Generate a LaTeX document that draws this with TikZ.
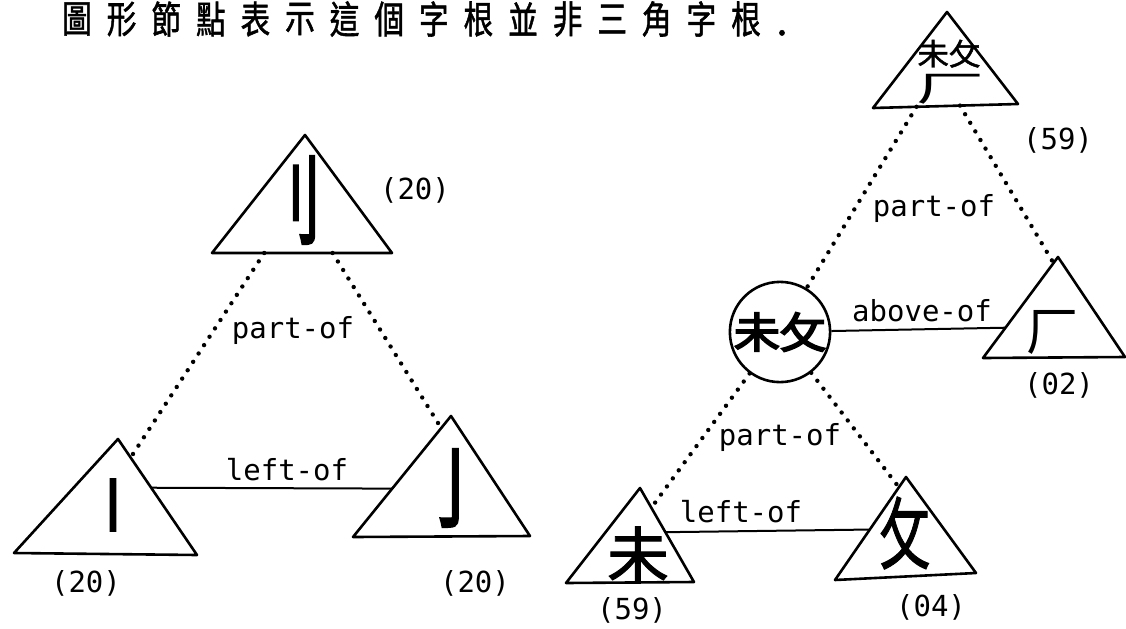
\documentclass[tikz,border=0pt]{standalone}
\usepackage{fontspec}
\usepackage{graphicx}
\newfontfamily\cjk{Noto Sans CJK TC}
\newfontfamily\cjkm[FakeBold=1.5]{Noto Sans CJK TC}
\newfontfamily\cjkb[FakeBold=4]{Noto Sans CJK TC}
\newfontfamily\mono{DejaVu Sans Mono}
\usetikzlibrary{calc}

\begin{document}
\begin{tikzpicture}[%
        x=0.5pt,
        y=-0.5pt,
        tri/.style={draw, line width=1.3pt, line join=round},
        rel/.style={line width=1pt},
        partof/.style={line width=2.2pt, line cap=round, dash pattern=on 0pt off 5pt},
        lbl/.style={font=\mono\fontsize{14.5}{16}\selectfont, inner sep=0pt},
        head/.style={font=\cjkm\fontsize{19}{19}\selectfont, inner sep=0pt},
        glyph/.style={inner sep=0pt},
        comp/.style={draw, circle, line width=1.3pt, minimum size=50pt, inner sep=0pt}
        ]
        \useasboundingbox (0,0) rectangle (1126,628);

        % title line
        \foreach \c [count=\i] in {圖,形,節,點,表,示,這,個,字,根,並,非,三,角,字,根}
            \node[head] (t\i) at ({77+44.6*(\i-1)},19) {\scalebox{0.78}[1]{\c}};
        \node[head, anchor=base] (tdot) at (782,35) {.};

        % triangles: apex, left corner, right corner
        \foreach \n/\a/\l/\r in {dao/{305,135}/{212,253}/{392,253},
                                 shu/{118,439}/{14,553}/{197,555},
                                 gou/{451,416}/{353,537}/{530,536},
                                 top/{947,12}/{873,108}/{1018,104},
                                 han/{1058,257}/{983,358}/{1125,357},
                                 wei/{640,488}/{566,583}/{694,582},
                                 pu/{906,477}/{835,580}/{976,573}}
        {
            \coordinate (\n-a) at (\a);
            \coordinate (\n-l) at (\l);
            \coordinate (\n-r) at (\r);
            \draw[tri] (\n-a) -- (\n-l) -- (\n-r) -- cycle;
        }

        % radicals
        \node[glyph, font=\cjkb\fontsize{48}{48}\selectfont] (dao-g) at (294,200) {\scalebox{0.55}[1]{刂}};
        \node[glyph, font=\cjkb\fontsize{28}{28}\selectfont] (shu-g) at (113,505) {丨};
        \node[glyph, font=\cjkb\fontsize{44}{44}\selectfont] (gou-g) at (455,488) {\scalebox{0.65}[1]{亅}};
        \node[glyph, font=\cjkm\fontsize{15}{15}\selectfont, anchor=south] (top-g) at (949,68) {\scalebox{1.05}[1]{未攵}};
        \node[glyph, font=\cjk\fontsize{34}{34}\selectfont, anchor=north] (top-h) at (950,74) {\scalebox{1}[0.52]{厂}};
        \node[glyph, font=\cjk\fontsize{26}{26}\selectfont] (han-g) at (1052,332) {厂};
        \node[glyph, font=\cjkm\fontsize{31}{31}\selectfont] (wei-g) at (638,555) {未};
        \node[glyph, font=\cjkm\fontsize{39}{39}\selectfont] (pu-g) at (905,533) {\scalebox{0.65}[1]{攵}};
        \node[comp, font=\cjkb\fontsize{21}{21}\selectfont] (wpu) at (780,332) {\scalebox{1.1}[1]{未攵}};

        % numbers
        \node[lbl] (dao-n) at (415,190) {(20)};
        \node[lbl] (shu-n) at (86,583) {(20)};
        \node[lbl] (gou-n) at (475,583) {(20)};
        \node[lbl] (top-n) at (1058,140) {(59)};
        \node[lbl] (han-n) at (1059,385) {(02)};
        \node[lbl] (wei-n) at (632,610) {(59)};
        \node[lbl] (pu-n) at (931,607) {(04)};

        % left tree
        \coordinate (dao-pl) at ($(dao-l)!0.29!(dao-r)$);
        \coordinate (dao-pr) at ($(dao-l)!0.67!(dao-r)$);
        \coordinate (shu-e) at ($(shu-a)!0.16!(shu-r)$);
        \coordinate (gou-e) at ($(gou-a)!0.10!(gou-l)$);
        \draw[partof] (dao-pl) -- (shu-e);
        \draw[partof] (dao-pr) -- (gou-e);
        \node[lbl] (part1) at (293,330) {part-of};

        \coordinate (shu-s) at ($(shu-a)!0.42!(shu-r)$);
        \coordinate (gou-s) at ($(gou-a)!0.60!(gou-l)$);
        \draw[rel] (shu-s) -- (gou-s);
        \node[lbl] (left1) at (287,470) {left-of};

        % right tree
        \coordinate (top-pl) at ($(top-l)!0.30!(top-r)$);
        \coordinate (top-pr) at ($(top-l)!0.60!(top-r)$);
        \coordinate (han-e) at ($(han-a)!0.06!(han-l)$);
        \draw[partof] (top-pl) -- (wpu);
        \draw[partof] (top-pr) -- (han-e);
        \node[lbl] (part2) at (934,208) {part-of};

        \coordinate (han-s) at ($(han-a)!0.70!(han-l)$);
        \draw[rel] (wpu) -- (han-s);
        \node[lbl] (above) at (922,311) {above-of};

        \coordinate (wei-e) at ($(wei-a)!0.21!(wei-r)$);
        \coordinate (pu-e) at ($(pu-a)!0.10!(pu-l)$);
        \draw[partof] (wpu) -- (wei-e);
        \draw[partof] (wpu) -- (pu-e);
        \node[lbl] (part3) at (780,437) {part-of};

        \coordinate (wei-s) at ($(wei-a)!0.47!(wei-r)$);
        \coordinate (pu-s) at ($(pu-a)!0.51!(pu-l)$);
        \draw[rel] (wei-s) -- (pu-s);
        \node[lbl] (left2) at (741,512) {left-of};
\end{tikzpicture}
\end{document}
